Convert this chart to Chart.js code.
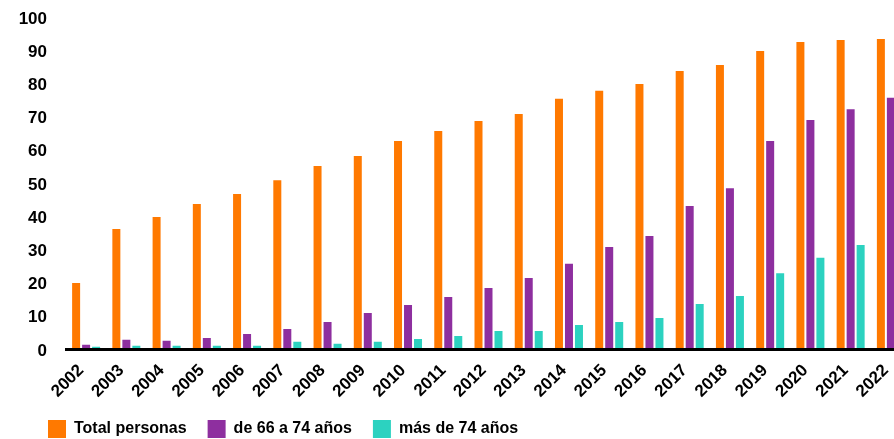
<!DOCTYPE html>
<html>
<head>
<meta charset="utf-8">
<script src="https://cdn.jsdelivr.net/npm/chart.js@4"></script>
<style>
  html, body { margin: 0; padding: 0; background: #fff; overflow: hidden; }
  #wrap { width: 894px; height: 439px; overflow: hidden; position: relative; }
  canvas { display: block; }
</style>
</head>
<body>
<div id="wrap"><canvas id="c" width="911" height="448" style="width:911px;height:448px"></canvas></div>
<script>
const years = ['2002','2003','2004','2005','2006','2007','2008','2009','2010','2011','2012','2013','2014','2015','2016','2017','2018','2019','2020','2021','2022'];
const totalPersonas = [20.0, 36.3, 39.9, 43.8, 46.8, 51.0, 55.3, 58.3, 62.8, 65.8, 68.8, 70.9, 75.5, 77.9, 80.0, 83.9, 85.7, 89.9, 92.6, 93.2, 93.5];
const de66a74 = [1.4, 2.9, 2.6, 3.5, 4.7, 6.2, 8.3, 11.0, 13.4, 15.8, 18.5, 21.5, 25.8, 30.9, 34.2, 43.2, 48.6, 62.8, 69.1, 72.4, 75.8];
const masDe74 = [0.8, 1.1, 1.1, 1.1, 1.1, 2.3, 1.7, 2.3, 3.2, 4.1, 5.6, 5.6, 7.4, 8.3, 9.5, 13.7, 16.1, 23.0, 27.6, 31.5, 35.0];
const seriesNames = ['Total personas', 'de 66 a 74 años', 'más de 74 años'];
const seriesColors = ['#ff7900', '#8e2f9f', '#2cd2c0'];

const FONT = '"Liberation Sans", Arial, Helvetica, sans-serif';

// moves the legend block to the right so it starts under the y labels
const legendShift = {
  id: 'legendShift',
  afterLayout(chart) {
    if (chart.legend) { chart.legend.left += 17; chart.legend.right += 17; }
  }
};

new Chart(document.getElementById('c'), {
  type: 'bar',
  data: {
    labels: years,
    datasets: [totalPersonas, de66a74, masDe74].map((d, i) => ({
      label: seriesNames[i],
      data: d,
      backgroundColor: seriesColors[i],
      borderWidth: 0,
      categoryPercentage: 0.7455,
      barPercentage: 0.8
    }))
  },
  plugins: [legendShift],
  options: {
    responsive: false,
    animation: false,
    devicePixelRatio: 1,
    layout: { padding: { left: 10, top: 17.5, right: 0, bottom: 0 } },
    plugins: {
      tooltip: { enabled: false },
      legend: {
        position: 'bottom',
        align: 'start',
        labels: {
          boxWidth: 18,
          boxHeight: 18,
          padding: 21,
          color: '#000',
          font: { family: FONT, size: 16, weight: 'bold' }
        }
      }
    },
    scales: {
      x: {
        grid: { display: false, drawTicks: false },
        border: { display: true, color: '#000', width: 3, z: 1 },
        ticks: {
          autoSkip: false,
          minRotation: 45,
          maxRotation: 45,
          padding: 11,
          labelOffset: -5,
          color: '#000',
          font: { family: FONT, size: 17, weight: 'bold' }
        },
        afterFit: (s) => { s.height = 49.5; s.paddingLeft = 0; s.paddingRight = 0; }
      },
      y: {
        min: 0,
        max: 100,
        grid: { display: false, drawTicks: false },
        border: { display: false },
        ticks: {
          stepSize: 10,
          padding: 19,
          labelOffset: 1.5,
          color: '#000',
          font: { family: FONT, size: 17, weight: 'bold' }
        },
        afterFit: (s) => { s.width = 56; s.paddingTop = 0; s.paddingBottom = 0; }
      }
    }
  }
});
</script>
</body>
</html>
